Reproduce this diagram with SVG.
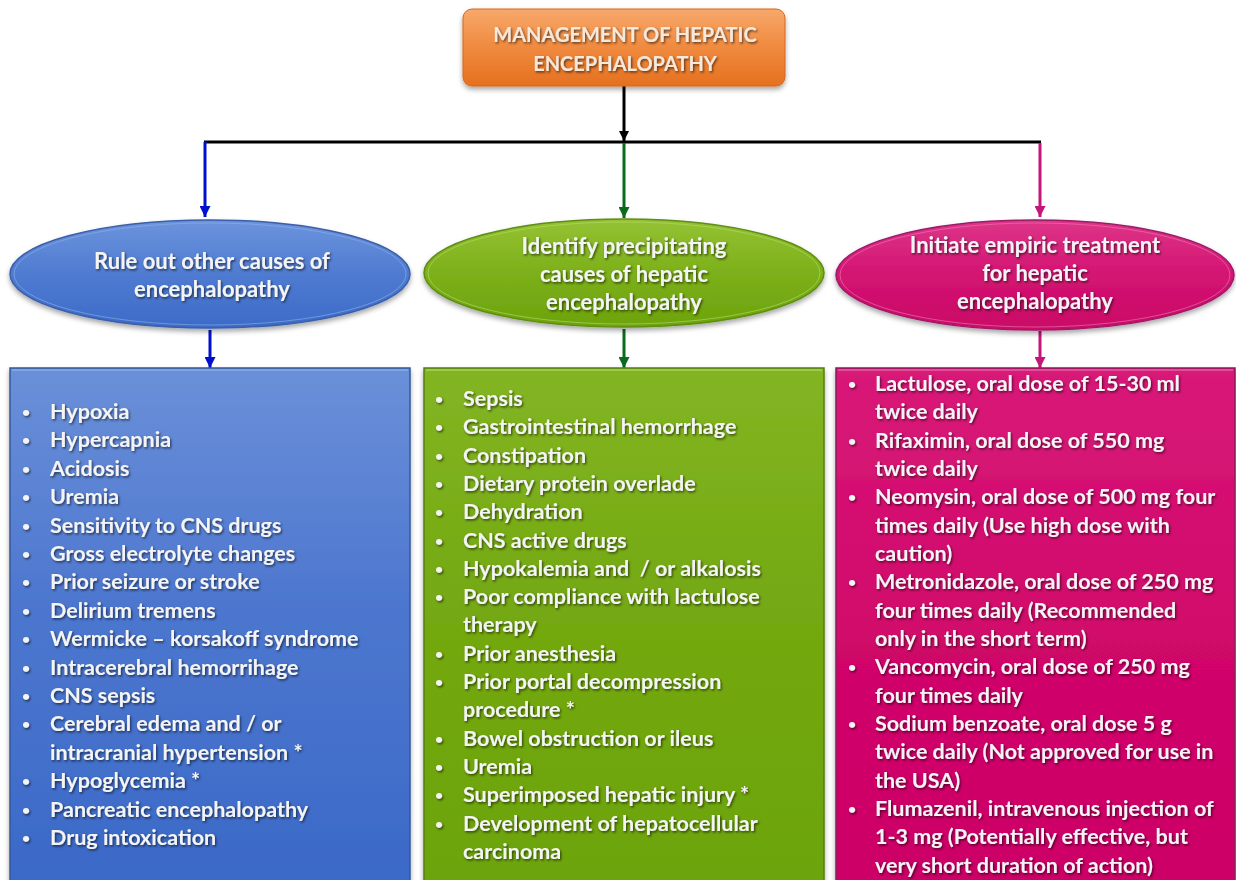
<svg xmlns="http://www.w3.org/2000/svg" width="1236" height="880" viewBox="0 0 1236 880">
  <defs>
    <linearGradient id="gOrange" x1="0" y1="0" x2="0" y2="1">
      <stop offset="0" stop-color="#f7a86c"/>
      <stop offset="0.5" stop-color="#f08a3e"/>
      <stop offset="1" stop-color="#e5701f"/>
    </linearGradient>
    <linearGradient id="gBlueBox" x1="0" y1="0" x2="0" y2="1">
      <stop offset="0" stop-color="#6b90d9"/>
      <stop offset="0.45" stop-color="#4d77cf"/>
      <stop offset="1" stop-color="#3a69c7"/>
    </linearGradient>
    <linearGradient id="gGreenBox" x1="0" y1="0" x2="0" y2="1">
      <stop offset="0" stop-color="#83b523"/>
      <stop offset="0.45" stop-color="#74a912"/>
      <stop offset="1" stop-color="#6ca40a"/>
    </linearGradient>
    <linearGradient id="gPinkBox" x1="0" y1="0" x2="0" y2="1">
      <stop offset="0" stop-color="#d81a78"/>
      <stop offset="0.45" stop-color="#d2086c"/>
      <stop offset="1" stop-color="#cc0066"/>
    </linearGradient>
    <linearGradient id="gBlueEll" x1="0" y1="0" x2="0" y2="1">
      <stop offset="0" stop-color="#6c94dd"/>
      <stop offset="0.5" stop-color="#4f7bd1"/>
      <stop offset="1" stop-color="#3c6bc8"/>
    </linearGradient>
    <linearGradient id="gGreenEll" x1="0" y1="0" x2="0" y2="1">
      <stop offset="0" stop-color="#95c234"/>
      <stop offset="0.5" stop-color="#7cb01a"/>
      <stop offset="1" stop-color="#6da30c"/>
    </linearGradient>
    <linearGradient id="gPinkEll" x1="0" y1="0" x2="0" y2="1">
      <stop offset="0" stop-color="#de3588"/>
      <stop offset="0.5" stop-color="#d31472"/>
      <stop offset="1" stop-color="#c90866"/>
    </linearGradient>
    <filter id="shapeShadow" x="-10%" y="-10%" width="120%" height="130%">
      <feDropShadow dx="0" dy="3" stdDeviation="2.5" flood-color="#000" flood-opacity="0.35"/>
    </filter>
    <filter id="textShadow" x="-5%" y="-20%" width="110%" height="150%">
      <feDropShadow dx="1.2" dy="1.5" stdDeviation="0.9" flood-color="#000" flood-opacity="0.6"/>
    </filter>
    <marker id="arrBlack" viewBox="0 0 10 10" refX="10" refY="5" markerWidth="10" markerHeight="10" markerUnits="userSpaceOnUse" orient="auto">
      <path d="M0,0 L10,5 L0,10 z" fill="#000"/>
    </marker>
    <marker id="arrBlue" viewBox="0 0 10 10" refX="10" refY="5" markerWidth="11" markerHeight="11" markerUnits="userSpaceOnUse" orient="auto">
      <path d="M0,0 L10,5 L0,10 z" fill="#0010cc"/>
    </marker>
    <marker id="arrGreen" viewBox="0 0 10 10" refX="10" refY="5" markerWidth="11" markerHeight="11" markerUnits="userSpaceOnUse" orient="auto">
      <path d="M0,0 L10,5 L0,10 z" fill="#0b6a1c"/>
    </marker>
    <marker id="arrPink" viewBox="0 0 10 10" refX="10" refY="5" markerWidth="11" markerHeight="11" markerUnits="userSpaceOnUse" orient="auto">
      <path d="M0,0 L10,5 L0,10 z" fill="#c4157a"/>
    </marker>
  </defs>
  <style>
    text { font-family: Lato, "Open Sans", "Liberation Sans", sans-serif; font-weight: bold; fill: #f4f4f4; }
    .title { font-size: 20px; fill: #f5e8dc; }
    .head { font-size: 22px; }
    .item { font-size: 21.5px; }
    .b { font-size: 14px; }
    .conn { fill: none; stroke-width: 3; }
  </style>
  <rect width="1236" height="880" fill="#ffffff"/>

  <!-- connectors -->
  <g id="connectors">
    <path class="conn" d="M624,86 V141" stroke="#000" marker-end="url(#arrBlack)"/>
    <path class="conn" d="M204,142 H1041" stroke="#000"/>
    <path class="conn" d="M205,142 V217" stroke="#0010cc" marker-end="url(#arrBlue)"/>
    <path class="conn" d="M624,143 V218" stroke="#0b6a1c" marker-end="url(#arrGreen)"/>
    <path class="conn" d="M1040,143 V217" stroke="#c4157a" marker-end="url(#arrPink)"/>
    <path class="conn" d="M210,330 V368" stroke="#0010cc" marker-end="url(#arrBlue)"/>
    <path class="conn" d="M624,329 V368" stroke="#0b6a1c" marker-end="url(#arrGreen)"/>
    <path class="conn" d="M1040,331 V368" stroke="#c4157a" marker-end="url(#arrPink)"/>
  </g>

  <!-- title -->
  <g id="title">
    <rect x="463" y="9" width="322" height="77" rx="9" fill="url(#gOrange)" stroke="#d8661c" stroke-width="1" filter="url(#shapeShadow)"/>
    <g filter="url(#textShadow)">
      <text class="title" x="625" y="42" text-anchor="middle">MANAGEMENT OF HEPATIC</text>
      <text class="title" x="625" y="71" text-anchor="middle">ENCEPHALOPATHY</text>
    </g>
  </g>

  <!-- ellipses -->
  <g id="rule-out">
    <ellipse cx="210" cy="274" rx="200" ry="54" fill="url(#gBlueEll)" stroke="#3a5fa8" stroke-width="1.5" filter="url(#shapeShadow)"/>
    <ellipse cx="210" cy="274" rx="196" ry="51" fill="none" stroke="#8fb0ea" stroke-width="1" opacity="0.6"/>
    <g filter="url(#textShadow)">
      <text class="head" x="212" y="269" text-anchor="middle">Rule out other causes of</text>
      <text class="head" x="212" y="297" text-anchor="middle">encephalopathy</text>
    </g>
  </g>

  <g id="identify">
    <ellipse cx="624" cy="273" rx="200" ry="54" fill="url(#gGreenEll)" stroke="#5f8e12" stroke-width="1.5" filter="url(#shapeShadow)"/>
    <ellipse cx="624" cy="273" rx="196" ry="51" fill="none" stroke="#b5dc6a" stroke-width="1" opacity="0.6"/>
    <g filter="url(#textShadow)">
      <text class="head" x="624" y="254" text-anchor="middle">Identify precipitating</text>
      <text class="head" x="624" y="282" text-anchor="middle">causes of hepatic</text>
      <text class="head" x="624" y="310" text-anchor="middle">encephalopathy</text>
    </g>
  </g>

  <g id="initiate">
    <ellipse cx="1035" cy="275" rx="199" ry="55" fill="url(#gPinkEll)" stroke="#9c1a6a" stroke-width="1.5" filter="url(#shapeShadow)"/>
    <ellipse cx="1035" cy="275" rx="195" ry="52" fill="none" stroke="#f07ab4" stroke-width="1" opacity="0.6"/>
    <g filter="url(#textShadow)">
      <text class="head" x="1035" y="253" text-anchor="middle">Initiate empiric treatment</text>
      <text class="head" x="1035" y="281" text-anchor="middle">for hepatic</text>
      <text class="head" x="1035" y="309" text-anchor="middle">encephalopathy</text>
    </g>
  </g>

  <!-- list boxes -->
  <g id="other-causes">
    <rect x="10" y="368" width="400" height="520" fill="url(#gBlueBox)" stroke="#35589a" stroke-width="1.5" filter="url(#shapeShadow)"/>
    <path d="M12,370 H408" stroke="#9ab6ec" stroke-width="1.5" opacity="0.7"/>
    <g class="item" filter="url(#textShadow)">
      <text class="b" x="22" y="417">•</text><text x="50" y="419">Hypoxia</text>
      <text class="b" x="22" y="445">•</text><text x="50" y="447">Hypercapnia</text>
      <text class="b" x="22" y="474">•</text><text x="50" y="476">Acidosis</text>
      <text class="b" x="22" y="502">•</text><text x="50" y="504">Uremia</text>
      <text class="b" x="22" y="531">•</text><text x="50" y="533">Sensitivity to CNS drugs</text>
      <text class="b" x="22" y="559">•</text><text x="50" y="561">Gross electrolyte changes</text>
      <text class="b" x="22" y="587">•</text><text x="50" y="589">Prior seizure or stroke</text>
      <text class="b" x="22" y="616">•</text><text x="50" y="618">Delirium tremens</text>
      <text class="b" x="22" y="644">•</text><text x="50" y="646">Wermicke – korsakoff syndrome</text>
      <text class="b" x="22" y="673">•</text><text x="50" y="675">Intracerebral hemorrihage</text>
      <text class="b" x="22" y="701">•</text><text x="50" y="703">CNS sepsis</text>
      <text class="b" x="22" y="729">•</text><text x="50" y="731">Cerebral edema and / or</text>
      <text x="50" y="760">intracranial hypertension *</text>
      <text class="b" x="22" y="786">•</text><text x="50" y="788">Hypoglycemia *</text>
      <text class="b" x="22" y="815">•</text><text x="50" y="817">Pancreatic encephalopathy</text>
      <text class="b" x="22" y="843">•</text><text x="50" y="845">Drug intoxication</text>
    </g>
  </g>

  <g id="precipitating-causes">
    <rect x="424" y="368" width="400" height="520" fill="url(#gGreenBox)" stroke="#557f10" stroke-width="1.5" filter="url(#shapeShadow)"/>
    <path d="M426,370 H822" stroke="#b8dc72" stroke-width="1.5" opacity="0.7"/>
    <g class="item" filter="url(#textShadow)">
      <text class="b" x="435" y="404">•</text><text x="463" y="406">Sepsis</text>
      <text class="b" x="435" y="432">•</text><text x="463" y="434">Gastrointestinal hemorrhage</text>
      <text class="b" x="435" y="461">•</text><text x="463" y="463">Constipation</text>
      <text class="b" x="435" y="489">•</text><text x="463" y="491">Dietary protein overlade</text>
      <text class="b" x="435" y="517">•</text><text x="463" y="519">Dehydration</text>
      <text class="b" x="435" y="546">•</text><text x="463" y="548">CNS active drugs</text>
      <text class="b" x="435" y="574">•</text><text x="463" y="576" xml:space="preserve">Hypokalemia and  / or alkalosis</text>
      <text class="b" x="435" y="602">•</text><text x="463" y="604">Poor compliance with lactulose</text>
      <text x="463" y="632">therapy</text>
      <text class="b" x="435" y="659">•</text><text x="463" y="661">Prior anesthesia</text>
      <text class="b" x="435" y="687">•</text><text x="463" y="689">Prior portal decompression</text>
      <text x="463" y="717">procedure *</text>
      <text class="b" x="435" y="744">•</text><text x="463" y="746">Bowel obstruction or ileus</text>
      <text class="b" x="435" y="772">•</text><text x="463" y="774">Uremia</text>
      <text class="b" x="435" y="800">•</text><text x="463" y="802">Superimposed hepatic injury *</text>
      <text class="b" x="435" y="829">•</text><text x="463" y="831">Development of hepatocellular</text>
      <text x="463" y="859">carcinoma</text>
    </g>
  </g>

  <g id="empiric-treatment">
    <rect x="836" y="368" width="399" height="520" fill="url(#gPinkBox)" stroke="#8f1a5e" stroke-width="1.5" filter="url(#shapeShadow)"/>
    <path d="M838,370 H1233" stroke="#f07ab4" stroke-width="1.5" opacity="0.7"/>
    <g class="item" filter="url(#textShadow)">
      <text class="b" x="848" y="389">•</text><text x="875" y="391">Lactulose, oral dose of 15-30 ml</text>
      <text x="875" y="419">twice daily</text>
      <text class="b" x="848" y="446">•</text><text x="875" y="448">Rifaximin, oral dose of 550 mg</text>
      <text x="875" y="476">twice daily</text>
      <text class="b" x="848" y="502">•</text><text x="875" y="504">Neomysin, oral dose of 500 mg four</text>
      <text x="875" y="533">times daily (Use high dose with</text>
      <text x="875" y="561">caution)</text>
      <text class="b" x="848" y="587">•</text><text x="875" y="589">Metronidazole, oral dose of 250 mg</text>
      <text x="875" y="618">four times daily (Recommended</text>
      <text x="875" y="646">only in the short term)</text>
      <text class="b" x="848" y="672">•</text><text x="875" y="674">Vancomycin, oral dose of 250 mg</text>
      <text x="875" y="703">four times daily</text>
      <text class="b" x="848" y="729">•</text><text x="875" y="731">Sodium benzoate, oral dose 5 g</text>
      <text x="875" y="759">twice daily (Not approved for use in</text>
      <text x="875" y="788">the USA)</text>
      <text class="b" x="848" y="814">•</text><text x="875" y="816">Flumazenil, intravenous injection of</text>
      <text x="875" y="844">1-3 mg (Potentially effective, but</text>
      <text x="875" y="873">very short duration of action)</text>
    </g>
  </g>
</svg>
